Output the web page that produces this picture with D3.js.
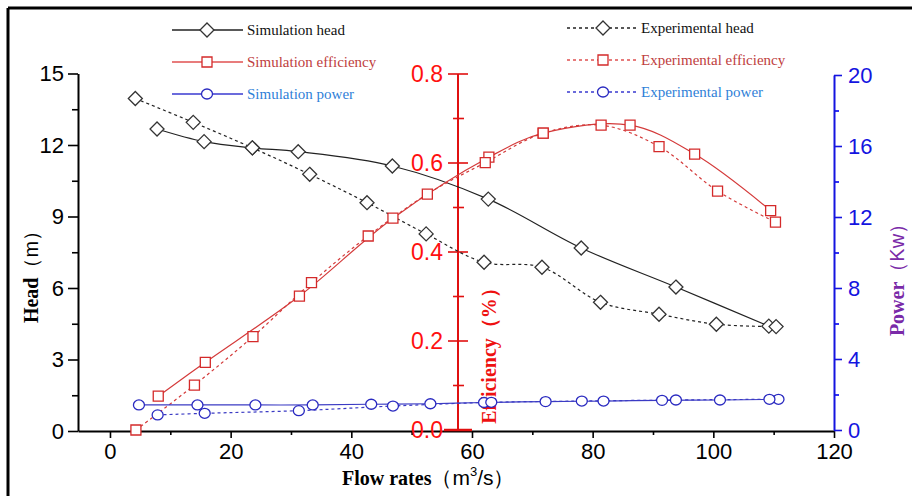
<!DOCTYPE html>
<html>
<head>
<meta charset="utf-8">
<script src="https://cdn.jsdelivr.net/npm/d3@7"></script>
<style>
  body { margin: 0; background: #fff; }
  svg { display: block; }
  .serif { font-family: "Liberation Serif", "Times New Roman", serif; }
  .sans { font-family: "Liberation Sans", Arial, sans-serif; }
</style>
</head>
<body>
<svg id="chart" width="912" height="496"></svg>
<script>
  // flow rate (m3/s) and values
  var simHeadX = [7.8, 15.6, 23.6, 31.2, 46.8, 62.7, 78.1, 93.8, 109.2];
  var simHead = [12.67, 12.14, 11.88, 11.72, 11.12, 9.73, 7.68, 6.04, 4.40];
  var expHeadX = [4.2, 13.8, 23.6, 33.1, 42.6, 52.4, 62.0, 71.6, 81.3, 91.0, 100.5, 110.4];
  var expHead = [13.95, 12.95, 11.88, 10.77, 9.58, 8.27, 7.08, 6.87, 5.40, 4.90, 4.48, 4.38];

  var simEffX = [8.0, 15.8, 31.4, 46.9, 62.8, 71.8, 86.2, 96.9, 109.5];
  var simEff = [0.076, 0.152, 0.301, 0.476, 0.613, 0.667, 0.685, 0.620, 0.493];
  var expEffX = [4.3, 14.0, 23.7, 33.4, 42.8, 52.6, 62.2, 71.8, 81.4, 91.0, 100.7, 110.3];
  var expEff = [0.0, 0.101, 0.21, 0.331, 0.436, 0.530, 0.601, 0.667, 0.685, 0.637, 0.537, 0.467];

  var simPowX = [4.8, 14.5, 24.1, 33.6, 43.3, 53.1, 62.0, 72.2, 81.8, 91.5, 101.1, 110.8];
  var simPow = [1.41, 1.41, 1.41, 1.41, 1.45, 1.48, 1.55, 1.60, 1.63, 1.67, 1.69, 1.73];
  var expPowX = [7.9, 15.7, 31.3, 46.9, 63.2, 78.2, 93.8, 109.3];
  var expPow = [0.85, 0.94, 1.09, 1.35, 1.56, 1.63, 1.69, 1.73];

  var xTicks = [0, 20, 40, 60, 80, 100, 120];
  var headTicks = [0, 3, 6, 9, 12, 15];
  var effTicks = [0, 0.2, 0.4, 0.6, 0.8];
  var powTicks = [0, 4, 8, 12, 16, 20];

  var svg = d3.select('#chart');

  var x = d3.scaleLinear().domain([-5.3, 120]).range([78, 834]);
  var yHead = d3.scaleLinear().domain([0, 15]).range([431, 73.5]);
  var yEff = d3.scaleLinear().domain([0, 0.8]).range([430, 74]);
  var yPow = d3.scaleLinear().domain([0, 20]).range([430, 75]);

  var black = '#222', red = '#d43a3a', blue = '#3b3bc4';

  // frame (top and left edges only are visible)
  svg.append('line').attr('x1', 8).attr('x2', 912).attr('y1', 8).attr('y2', 8)
    .attr('stroke', '#000').attr('stroke-width', 3);
  svg.append('line').attr('x1', 8).attr('x2', 8).attr('y1', 8).attr('y2', 496)
    .attr('stroke', '#000').attr('stroke-width', 3);

  function styleAxis(g, color, size) {
    g.select('.domain').attr('stroke', color).attr('stroke-width', 2);
    g.selectAll('.tick line').attr('stroke', color).attr('stroke-width', 1.6);
    g.selectAll('.tick text').attr('fill', color)
      .attr('class', 'sans').style('font-size', size + 'px');
  }

  // bottom axis
  var gx = svg.append('g').attr('transform', 'translate(0,431)');
  gx.append('g').call(d3.axisBottom(x).tickValues(d3.range(10, 120, 20)).tickSize(4).tickFormat(''))
    .call(function(g) { styleAxis(g, '#000', 21); g.select('.domain').remove(); });
  gx.append('g').call(d3.axisBottom(x).tickValues(xTicks).tickSize(7).tickSizeOuter(0).tickPadding(5))
    .call(function(g) { styleAxis(g, '#000', 22); });

  // head axis (left)
  var gh = svg.append('g').attr('transform', 'translate(78,0)');
  gh.append('g').call(d3.axisLeft(yHead).tickValues(d3.range(1.5, 15, 3)).tickSize(6).tickFormat(''))
    .call(function(g) { styleAxis(g, '#000', 21); g.select('.domain').remove(); });
  gh.append('g').call(d3.axisLeft(yHead).tickValues(headTicks).tickSize(10).tickSizeOuter(0).tickPadding(4))
    .call(function(g) { styleAxis(g, '#000', 22); });

  // efficiency axis (middle, ticks cross the line)
  var ge = svg.append('g').attr('transform', 'translate(458,0)');
  ge.append('line').attr('y1', yEff(0)).attr('y2', yEff(0.8))
    .attr('stroke', '#e01010').attr('stroke-width', 2);
  ge.selectAll('line.minor').data(d3.range(0.1, 0.8, 0.2)).enter().append('line')
    .attr('x1', -5).attr('x2', 6).attr('y1', yEff).attr('y2', yEff)
    .attr('stroke', '#e01010').attr('stroke-width', 1.6);
  ge.selectAll('line.major').data(effTicks).enter().append('line')
    .attr('x1', function(d) { return d === 0 ? -14 : -10; })
    .attr('x2', function(d) { return d === 0 ? 14 : 10; })
    .attr('y1', yEff).attr('y2', yEff)
    .attr('stroke', '#e01010').attr('stroke-width', function(d) { return d === 0 ? 2.5 : 1.6; });
  ge.selectAll('text').data(effTicks).enter().append('text')
    .attr('class', 'sans').attr('x', -15).attr('y', yEff).attr('dy', '0.36em')
    .attr('text-anchor', 'end').attr('fill', '#ff1010').style('font-size', '23px')
    .text(d3.format('.1f'));

  // power axis (right)
  var gp = svg.append('g').attr('transform', 'translate(834,0)');
  gp.append('g').call(d3.axisRight(yPow).tickValues(d3.range(2, 20, 4)).tickSize(5).tickFormat(''))
    .call(function(g) { styleAxis(g, '#0000ee', 21); g.select('.domain').remove(); });
  gp.append('g').call(d3.axisRight(yPow).tickValues(powTicks).tickSize(8).tickSizeOuter(0).tickPadding(6))
    .call(function(g) { styleAxis(g, '#1414e0', 22); });

  // axis titles
  var th = svg.append('text').attr('transform', 'translate(38,272) rotate(-90)')
    .attr('text-anchor', 'middle').attr('fill', '#000');
  th.append('tspan').attr('class', 'serif').style('font-weight', 'bold').style('font-size', '20px').text('Head');
  th.append('tspan').attr('class', 'sans').style('font-size', '20px').text('（m）');

  var te = svg.append('text').attr('transform', 'translate(496,351) rotate(-90)')
    .attr('text-anchor', 'middle').attr('fill', '#ee1010');
  te.append('tspan').attr('class', 'serif').style('font-weight', 'bold').style('font-size', '20px').text('Efficiency');
  te.append('tspan').attr('class', 'serif').style('font-weight', 'bold').style('font-size', '20px').text('（%）');

  var tp = svg.append('text').attr('transform', 'translate(904,275) rotate(-90)')
    .attr('text-anchor', 'middle').attr('fill', '#7a2aa8');
  tp.append('tspan').attr('class', 'serif').style('font-weight', 'bold').style('font-size', '20px').text('Power');
  tp.append('tspan').attr('class', 'sans').style('font-size', '20px').text('（Kw）');

  var tx = svg.append('text').attr('x', 342).attr('y', 485).attr('fill', '#000');
  tx.append('tspan').attr('class', 'serif').style('font-weight', 'bold').style('font-size', '20px').text('Flow rates');
  tx.append('tspan').attr('class', 'sans').style('font-size', '21px').text('（m');
  tx.append('tspan').attr('class', 'sans').style('font-size', '13px').attr('dy', -9).text('3');
  tx.append('tspan').attr('class', 'sans').style('font-size', '21px').attr('dy', 9).text('/s）');

  // series
  function pts(xs, ys) { return xs.map(function(v, i) { return [v, ys[i]]; }); }

  var series = [
    {data: pts(simHeadX, simHead), y: yHead, color: black, dash: null, mark: 'diamond'},
    {data: pts(expHeadX, expHead), y: yHead, color: black, dash: '3,3', mark: 'diamond'},
    {data: pts(simEffX, simEff), y: yEff, color: red, dash: null, mark: 'square'},
    {data: pts(expEffX, expEff), y: yEff, color: red, dash: '3,3', mark: 'square'},
    {data: pts(simPowX, simPow), y: yPow, color: blue, dash: null, mark: 'circle'},
    {data: pts(expPowX, expPow), y: yPow, color: blue, dash: '3,3', mark: 'circle'}
  ];

  var markPath = {
    diamond: 'M0,-7L7,0L0,7L-7,0Z',
    square: 'M-5,-5H5V5H-5Z',
    circle: 'M-5.5,0A5.5,5,0,1,0,5.5,0A5.5,5,0,1,0,-5.5,0Z'
  };
  var markColor = {diamond: '#333', square: '#d42a2a', circle: '#2a2ac0'};

  series.forEach(function(s) {
    var line = d3.line()
      .x(function(d) { return x(d[0]); })
      .y(function(d) { return s.y(d[1]); })
      .curve(d3.curveCatmullRom.alpha(0.5));
    svg.append('path').datum(s.data)
      .attr('d', line).attr('fill', 'none')
      .attr('stroke', s.color).attr('stroke-width', 1.2)
      .attr('stroke-dasharray', s.dash);
  });

  series.forEach(function(s) {
    svg.append('g').selectAll('path').data(s.data).enter().append('path')
      .attr('transform', function(d) { return 'translate(' + x(d[0]) + ',' + s.y(d[1]) + ')'; })
      .attr('d', markPath[s.mark])
      .attr('fill', '#fff').attr('stroke', markColor[s.mark]).attr('stroke-width', 1.3);
  });

  // legend
  var legendLeft = [
    {label: 'Simulation head', mark: 'diamond', color: black, text: '#111', y: 30},
    {label: 'Simulation efficiency', mark: 'square', color: '#e05050', text: '#c04040', y: 62},
    {label: 'Simulation power', mark: 'circle', color: '#3a3ad0', text: '#2f7fd8', y: 94}
  ];
  var legendRight = [
    {label: 'Experimental head', mark: 'diamond', color: black, text: '#111', y: 28},
    {label: 'Experimental efficiency', mark: 'square', color: '#e05050', text: '#c04040', y: 60},
    {label: 'Experimental power', mark: 'circle', color: '#3a3ad0', text: '#2f7fd8', y: 92}
  ];

  function drawLegend(items, x0, x1, xm, xt, dash) {
    var g = svg.append('g');
    items.forEach(function(it) {
      g.append('line').attr('x1', x0).attr('x2', x1).attr('y1', it.y).attr('y2', it.y)
        .attr('stroke', it.color).attr('stroke-width', 1.3).attr('stroke-dasharray', dash);
      g.append('path').attr('transform', 'translate(' + xm + ',' + it.y + ')')
        .attr('d', markPath[it.mark]).attr('fill', '#fff')
        .attr('stroke', markColor[it.mark]).attr('stroke-width', 1.3);
      g.append('text').attr('class', 'serif').attr('x', xt).attr('y', it.y + 5)
        .attr('fill', it.text).style('font-size', '15px').text(it.label);
    });
  }
  drawLegend(legendLeft, 172, 243, 207, 247, null);
  drawLegend(legendRight, 567, 637, 603, 641, '3,3');
</script>
</body>
</html>
